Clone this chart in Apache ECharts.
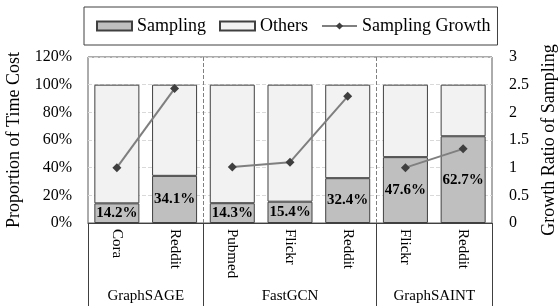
<!DOCTYPE html>
<html>
<head>
<meta charset="utf-8">
<script src="https://cdn.jsdelivr.net/npm/echarts@6/dist/echarts.min.js"></script>
<style>
  html, body { margin: 0; padding: 0; background: #fff; }
  #chart { width: 558px; height: 306px; }
</style>
</head>
<body>
<div id="chart"></div>
<script>
// datasets on the x axis
const datasets = ['Cora', 'Reddit', 'Pubmed', 'Flickr', 'Reddit', 'Flickr', 'Reddit'];
// model groups: name, first index, count
const groupNames = ['GraphSAGE', 'FastGCN', 'GraphSAINT'];
const groupStart = [0, 2, 5];
const groupSize = [2, 3, 2];
// proportion of time cost (%)
const sampling = [14.2, 34.1, 14.3, 15.4, 32.4, 47.6, 62.7];
const others = [85.8, 65.9, 85.7, 84.6, 67.6, 52.4, 37.3];
// growth ratio of sampling
const growth = [1.0, 2.43, 1.01, 1.1, 2.29, 1.0, 1.34];

const FONT = 'Liberation Serif';
const chart = echarts.init(document.getElementById('chart'));

// one line piece per model group
const growthSeries = groupNames.map((g, k) => ({
  name: 'Sampling Growth',
  type: 'line',
  yAxisIndex: 1,
  data: growth.map((v, i) => (i >= groupStart[k] && i < groupStart[k] + groupSize[k]) ? v : '-'),
  symbol: 'diamond',
  symbolSize: 9,
  lineStyle: { color: '#7f7f7f', width: 2 },
  itemStyle: { color: '#3f3f3f' },
  z: 5
}));

// group boundaries and label positions on the helper value axis
const boundaries = [0];
groupSize.forEach((n, k) => boundaries.push(groupStart[k] + n));
const groupCenters = groupStart.map((s, k) => s + groupSize[k] / 2);

const option = {
  animation: false,
  textStyle: { fontFamily: FONT },
  legend: {
    data: [
      { name: 'Sampling', icon: 'rect' },
      { name: 'Others', icon: 'rect' },
      'Sampling Growth'
    ],
    left: 84,
    top: 7,
    padding: [10, 7, 10, 12],
    borderColor: '#404040',
    borderWidth: 1,
    itemWidth: 35,
    itemHeight: 9,
    itemGap: 13,
    textStyle: { fontFamily: FONT, fontSize: 18, color: '#000' }
  },
  grid: {
    left: 88, right: 66, top: 57, bottom: 83,
    outerBoundsMode: 'none',
    show: true, borderColor: '#595959', borderWidth: 1
  },
  xAxis: [{
    type: 'category',
    data: datasets,
    axisLine: { lineStyle: { color: '#404040' } },
    axisTick: { show: false },
    axisLabel: { rotate: -90, margin: 6, fontFamily: FONT, fontSize: 15, color: '#000' }
  }, {
    type: 'value',
    min: 0, max: datasets.length,
    position: 'bottom',
    axisLine: { show: false },
    splitLine: { show: false },
    axisTick: {
      show: true, customValues: boundaries, length: 83,
      lineStyle: { color: '#404040' }
    },
    axisLabel: {
      customValues: groupCenters, margin: 66,
      fontFamily: FONT, fontSize: 15, color: '#000',
      formatter: v => groupNames[groupCenters.indexOf(v)] || ''
    }
  }],
  yAxis: [{
    type: 'value',
    min: 0, max: 120, interval: 20,
    name: 'Proportion of Time Cost',
    nameLocation: 'middle',
    nameGap: 65,
    nameTextStyle: { fontFamily: FONT, fontSize: 18, color: '#000' },
    axisLine: { show: false },
    axisTick: { show: false },
    axisLabel: { formatter: '{value}%', margin: 16, fontFamily: FONT, fontSize: 16, color: '#000' },
    splitLine: { lineStyle: { type: 'dashed', color: '#d9d9d9' } }
  }, {
    type: 'value',
    min: 0, max: 3, interval: 0.5,
    name: 'Growth Ratio of Sampling',
    nameLocation: 'middle',
    nameGap: 48,
    nameRotate: 90,
    nameTextStyle: { fontFamily: FONT, fontSize: 18, color: '#000' },
    axisLine: { show: false },
    axisTick: { show: false },
    axisLabel: { margin: 17, fontFamily: FONT, fontSize: 16, color: '#000' },
    splitLine: { show: false }
  }],
  series: [{
    name: 'Sampling',
    type: 'bar',
    stack: 'cost',
    barWidth: '78%',
    data: sampling,
    itemStyle: { color: '#bfbfbf', borderColor: '#404040', borderWidth: 1 },
    label: {
      show: true, position: 'inside', formatter: '{c}%',
      fontFamily: FONT, fontSize: 15, fontWeight: 'bold', color: '#000'
    }
  }, {
    name: 'Others',
    type: 'bar',
    stack: 'cost',
    data: others,
    itemStyle: { color: '#f2f2f2', borderColor: '#404040', borderWidth: 1 }
  }, ...growthSeries, {
    // dashed separators between model groups
    name: 'separators',
    type: 'line',
    xAxisIndex: 1,
    data: [],
    markLine: {
      silent: true,
      symbol: 'none',
      label: { show: false },
      lineStyle: { type: 'dashed', color: '#808080', width: 1 },
      data: boundaries.slice(1, -1).map(b => ({ xAxis: b }))
    }
  }]
};

chart.setOption(option);
</script>
</body>
</html>
